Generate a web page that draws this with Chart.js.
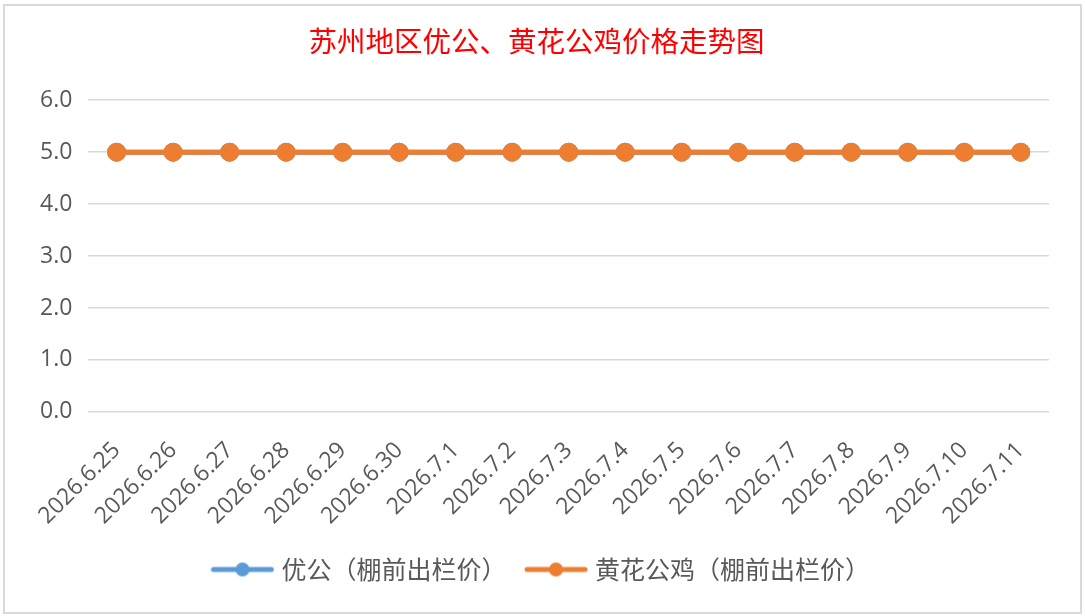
<!DOCTYPE html>
<html>
<head>
<meta charset="utf-8">
<script src="https://cdn.jsdelivr.net/npm/chart.js@4/dist/chart.umd.min.js"></script>
<style>
  html, body { margin: 0; padding: 0; background: #fff; }
  body { width: 1085px; height: 616px; overflow: hidden; position: relative; }
  #box {
    position: absolute; left: 3px; top: 4px; width: 1075px; height: 606px;
    border: 2px solid #d9d9d9; background: #fff;
  }
</style>
</head>
<body>
<div id="box"><canvas id="chart"></canvas></div>
<script>
const dates = ['2026.6.25', '2026.6.26', '2026.6.27', '2026.6.28', '2026.6.29', '2026.6.30',
  '2026.7.1', '2026.7.2', '2026.7.3', '2026.7.4', '2026.7.5', '2026.7.6', '2026.7.7',
  '2026.7.8', '2026.7.9', '2026.7.10', '2026.7.11'];
const youGong = [5, 5, 5, 5, 5, 5, 5, 5, 5, 5, 5, 5, 5, 5, 5, 5, 5];
const huangHua = [5, 5, 5, 5, 5, 5, 5, 5, 5, 5, 5, 5, 5, 5, 5, 5, 5];
const seriesNames = ['优公（棚前出栏价）', '黄花公鸡（棚前出栏价）'];
const seriesColors = ['#5b9bd5', '#ed7d31'];

// legend marker: line with a dot, drawn on the right part of a wider canvas
// (the empty left part gives room between legend items)
const legendMark = (color) => {
  const c = document.createElement('canvas');
  c.width = 77; c.height = 16;
  const g = c.getContext('2d');
  g.strokeStyle = color;
  g.lineWidth = 5;
  g.lineCap = 'round';
  g.beginPath(); g.moveTo(16, 8); g.lineTo(74, 8); g.stroke();
  g.fillStyle = color;
  g.beginPath(); g.arc(45, 8, 7, 0, Math.PI * 2); g.fill();
  return c;
};
const marks = seriesColors.map(legendMark);

const tickFont = { family: '"Open Sans", sans-serif', size: 23 };

new Chart(document.getElementById('chart'), {
  type: 'line',
  data: {
    labels: dates,
    datasets: [
      { label: seriesNames[0], data: youGong, borderColor: seriesColors[0], backgroundColor: seriesColors[0],
        borderWidth: 5, pointRadius: 7, pointHoverRadius: 7, order: 1 },
      { label: seriesNames[1], data: huangHua, borderColor: seriesColors[1], backgroundColor: seriesColors[1],
        borderWidth: 5, pointRadius: 7, pointHoverRadius: 7, order: 0 }
    ]
  },
  options: {
    responsive: true,
    maintainAspectRatio: false,
    animation: false,
    layout: { padding: { left: 19, right: 31, top: 12, bottom: 20 } },
    plugins: {
      title: {
        display: true,
        text: '苏州地区优公、黄花公鸡价格走势图',
        color: '#ff0000',
        font: { family: '"Noto Sans CJK SC", sans-serif', size: 28.5, weight: 'normal' },
        padding: { top: 6, bottom: 42 }
      },
      legend: {
        position: 'bottom',
        labels: {
          usePointStyle: true,
          pointStyleWidth: 66,
          color: '#595959',
          font: { family: '"Noto Sans CJK SC", sans-serif', size: 25 },
          padding: 10,
          generateLabels: (chart) => chart.data.datasets.map((ds, i) => ({
            text: ds.label,
            fillStyle: seriesColors[i],
            strokeStyle: seriesColors[i],
            fontColor: '#595959',
            pointStyle: marks[i],
            lineWidth: 0,
            hidden: false,
            datasetIndex: i
          }))
        }
      },
      tooltip: { enabled: false }
    },
    scales: {
      x: {
        offset: true,
        grid: { display: false },
        border: { display: false },
        ticks: { color: '#595959', font: tickFont, maxRotation: 45, minRotation: 45, autoSkip: false, padding: 17 }
      },
      y: {
        min: 0,
        max: 6,
        grid: { color: '#d9d9d9', lineWidth: 1.5, drawTicks: false },
        border: { display: false },
        ticks: { stepSize: 1, color: '#595959', font: tickFont, padding: 16,
          callback: (v) => Number(v).toFixed(1) }
      }
    }
  }
});
</script>
</body>
</html>
